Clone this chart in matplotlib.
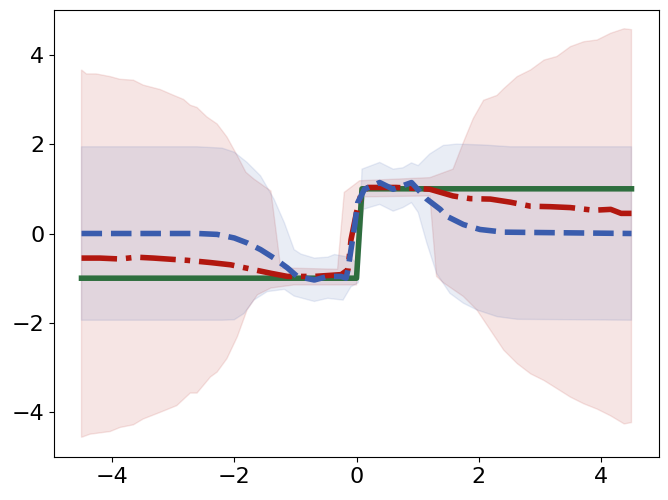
import matplotlib
matplotlib.use("Agg")
import matplotlib.pyplot as plt
import numpy as np

# Función real (escalón)
x_real = [-4.5, 0.0, 0.09, 4.5]
y_real = [-1, -1, 1, 1]

# Media del modelo rojo (punto-raya)
x_rojo = [-4.5, -4.2, -3.87, -3.6, -3.32, -3.0, -2.77, -2.39, -2.06, -1.68, -1.40, -1.13,
          -0.69, -0.25, -0.14, -0.09, 0.0, 0.08, 0.19, 0.65, 1.09, 1.2, 1.58, 1.86, 2.19,
          2.52, 2.85, 3.17, 3.50, 3.88, 4.16, 4.33, 4.5]
y_rojo = [-0.55, -0.55, -0.57, -0.53, -0.55, -0.58, -0.6, -0.65, -0.70, -0.81, -0.89, -0.96,
          -0.96, -0.92, -0.81, -0.14, 0.47, 0.92, 1.03, 1.03, 1.0, 0.99, 0.84, 0.78, 0.77,
          0.70, 0.61, 0.60, 0.58, 0.52, 0.54, 0.45, 0.45]

# Banda roja (límite superior e inferior)
x_rojo_sup = [-4.5, -4.42, -4.26, -4.03, -3.87, -3.65, -3.49, -3.21, -2.99, -2.83, -2.72, -2.61,
              -2.45, -2.28, -2.12, -1.95, -1.81, -1.68, -1.40, -1.24, -0.31, -0.2, 0.05, 1.2,
              1.58, 1.75, 1.91, 2.08, 2.30, 2.41, 2.63, 2.85, 3.07, 3.28, 3.50, 3.72, 3.94,
              4.16, 4.38, 4.5]
y_rojo_sup = [3.66, 3.57, 3.57, 3.51, 3.45, 3.43, 3.32, 3.22, 3.09, 3.0, 2.87, 2.82,
              2.61, 2.45, 2.16, 1.74, 1.37, 1.22, 0.95, -0.77, -0.80, 0.92, 1.18, 1.25,
              1.44, 2.04, 2.57, 2.98, 3.09, 3.24, 3.51, 3.66, 3.88, 3.96, 4.18, 4.29, 4.33,
              4.48, 4.58, 4.56]
x_rojo_inf = [-4.5, -4.36, -4.03, -3.87, -3.65, -3.49, -3.21, -2.94, -2.72, -2.61, -2.39, -2.28,
              -2.12, -1.95, -1.79, -1.62, -1.40, -1.02, 0.0, 0.13, 1.2, 1.31, 1.42, 1.75,
              1.97, 2.19, 2.41, 2.63, 2.85, 3.07, 3.28, 3.5, 3.72, 3.94, 4.16, 4.38, 4.5]
y_rojo_inf = [-4.56, -4.49, -4.43, -4.34, -4.28, -4.15, -4.0, -3.85, -3.57, -3.57, -3.21, -3.10,
              -2.80, -2.31, -1.71, -1.37, -1.22, -1.15, -1.15, 0.82, 0.84, -0.96, -1.10, -1.41,
              -1.71, -2.16, -2.61, -2.91, -3.14, -3.29, -3.47, -3.66, -3.81, -3.93, -4.08, -4.26, -4.23]

# Media del modelo azul (discontinua)
x_azul = [-4.5, -2.6, -2.28, -2.0, -1.79, -1.57, -1.35, -1.13, -0.97, -0.69, -0.47, -0.25,
          -0.17, -0.14, -0.09, -0.03, 0.02, 0.13, 0.38, 0.6, 0.9, 1.15, 1.37, 1.47, 1.75,
          2.02, 2.41, 4.5]
y_azul = [0.0, 0.0, -0.02, -0.1, -0.21, -0.36, -0.55, -0.77, -0.96, -1.04, -0.96, -0.96,
          -1.0, -0.81, -0.36, 0.17, 0.69, 0.99, 1.14, 0.99, 1.14, 0.77, 0.54, 0.39, 0.2,
          0.09, 0.03, 0.0]

# Banda azul
x_azul_sup = [-4.5, -2.61, -2.2, -2.0, -1.79, -1.57, -1.35, -1.18, -1.02, -0.91, -0.69, -0.47,
              -0.36, -0.2, -0.09, 0.03, 0.09, 0.38, 0.6, 0.76, 0.9, 1.01, 1.2, 1.42, 1.64,
              2.08, 2.52, 4.5]
y_azul_sup = [1.94, 1.94, 1.91, 1.82, 1.59, 1.29, 0.77, 0.24, -0.36, -0.46, -0.55, -0.53,
              -0.47, -0.51, -0.55, -0.7, 1.44, 1.59, 1.44, 1.47, 1.58, 1.52, 1.78, 1.97, 2.0,
              1.98, 1.94, 1.94]
x_azul_inf = [-4.5, -2.2, -2.0, -1.84, -1.68, -1.46, -1.18, -1.02, -0.69, -0.47, -0.22, -0.09,
              0.03, 0.11, 0.38, 0.6, 0.76, 0.9, 1.01, 1.15, 1.31, 1.53, 1.75, 1.97, 2.3,
              2.63, 4.5]
y_azul_inf = [-1.94, -1.94, -1.93, -1.79, -1.49, -1.30, -1.25, -1.40, -1.52, -1.45, -1.49, -1.19,
              -1.1, 0.54, 0.65, 0.50, 0.58, 0.69, 0.47, -0.21, -0.89, -1.34, -1.56, -1.71, -1.86,
              -1.92, -1.94]

color_rojo = "#b2170f"
color_azul = "#3a5cad"
color_verde = "#2e6e3e"

fig = plt.figure(figsize=(6.68, 5.0), dpi=100)
ax = fig.add_axes([54 / 668, 43 / 500, 605 / 668, 447 / 500])

# Bandas de incertidumbre
ax.fill(np.concatenate([x_rojo_sup, x_rojo_inf[::-1]]),
        np.concatenate([y_rojo_sup, y_rojo_inf[::-1]]),
        color=color_rojo, alpha=0.11)
ax.fill(np.concatenate([x_azul_sup, x_azul_inf[::-1]]),
        np.concatenate([y_azul_sup, y_azul_inf[::-1]]),
        color=color_azul, alpha=0.11)

# Curvas
ax.plot(x_real, y_real, '-', color=color_verde, lw=4)
ax.plot(x_rojo, y_rojo, '-.', color=color_rojo, lw=4)
ax.plot(x_azul, y_azul, '--', color=color_azul, lw=4)

ax.set_xlim(-4.95, 4.95)
ax.set_ylim(-5, 5)
ax.tick_params(labelsize=16)

plt.savefig("out.png", dpi=100)
